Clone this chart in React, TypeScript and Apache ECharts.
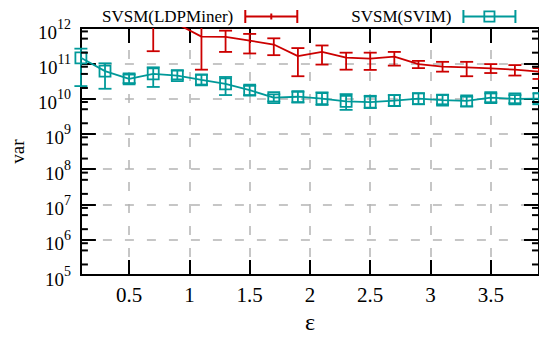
import React, { useEffect, useRef } from 'react';
import * as echarts from 'echarts';

const FONT = 'Liberation Serif';
const RED = '#cc0000';
const TEAL = '#009999';
const GRID_COLOR = '#b4b4b4';

const X_MIN = 0.1;
const X_MAX = 3.9;
const Y_MIN = 1e5;
const Y_MAX = 1e12;
const xTickValues = [0.5, 1, 1.5, 2, 2.5, 3, 3.5];
const minorMantissas = [2, 5, 8];
const minorDecades = [5, 6, 7, 8, 9, 10, 11];

// SVSM(LDPMiner)
const ldpEps = [0.7, 0.9, 1.1, 1.3, 1.5, 1.7, 1.9, 2.1, 2.3, 2.5, 2.7, 2.9, 3.1, 3.3, 3.5, 3.7, 3.9];
const ldpMean = [2.0e12, 1.3e12, 5.7e11, 5.6e11, 4.4e11, 3.4e11, 1.6e11, 2.1e11, 1.45e11, 1.35e11, 1.55e11, 9.5e10, 8.0e10, 7.7e10, 7.2e10, 6.6e10, 5.8e10];
const ldpLow = [2.2e11, 1.1e12, 6.6e10, 2.1e11, 1.9e11, 1.7e11, 4.3e10, 9.2e10, 6.6e10, 6.5e10, 8.6e10, 7.3e10, 5.8e10, 4.3e10, 5.3e10, 4.5e10, 3.6e10];
const ldpHigh = [6.0e12, 1.6e12, 1.5e12, 8.4e11, 6.8e11, 5.1e11, 2.7e11, 3.2e11, 2.0e11, 2.0e11, 2.1e11, 1.17e11, 1.1e11, 1.1e11, 9.5e10, 8.9e10, 7.3e10];

// SVSM(SVIM)
const svimEps = [0.1, 0.3, 0.5, 0.7, 0.9, 1.1, 1.3, 1.5, 1.7, 1.9, 2.1, 2.3, 2.5, 2.7, 2.9, 3.1, 3.3, 3.5, 3.7, 3.9];
const svimMean = [1.43e11, 6.0e10, 3.6e10, 5.0e10, 4.5e10, 3.4e10, 2.6e10, 1.74e10, 1.06e10, 1.13e10, 1.0e10, 8.3e9, 7.9e9, 8.8e9, 1.0e10, 9.1e9, 8.6e9, 1.07e10, 9.8e9, 1.0e10];
const svimLow = [2.26e10, 1.9e10, 2.75e10, 2.14e10, 3.5e10, 2.5e10, 1.26e10, 1.26e10, 8.3e9, 7.8e9, 6.6e9, 4.8e9, 5.4e9, 6.2e9, 6.9e9, 6.9e9, 6.0e9, 7.9e9, 7.4e9, 6.9e9];
const svimHigh = [2.6e11, 1.0e11, 4.8e10, 7.7e10, 6.2e10, 4.7e10, 4.1e10, 2.3e10, 1.32e10, 1.56e10, 1.5e10, 1.34e10, 1.2e10, 1.26e10, 1.4e10, 1.26e10, 1.13e10, 1.4e10, 1.26e10, 1.4e10];

const LDP_NAME = 'SVSM(LDPMiner)';
const SVIM_NAME = 'SVSM(SVIM)';

const redIcon =
  'path://M0 0H2V13H0Z M52 0H54V13H52Z M2 5.6H52V7.4H2Z M26 3.5H28V9.5H26Z';
const tealIcon =
  'path://M0 0H2V13H0Z M52 0H54V13H52Z M2 5.6H52V7.4H2Z M21 0.5H33V2.3H21Z M21 10.7H33V12.5H21Z M21 0.5H22.8V12.5H21Z M31.2 0.5H33V12.5H31.2Z';

function errorBarSeries(name: string, xs: number[], lo: number[], hi: number[], color: string, clip: boolean) {
  return {
    type: 'custom',
    name: name + ' err',
    xAxisIndex: 0,
    yAxisIndex: 0,
    clip,
    silent: true,
    z: 3,
    data: xs.map((x, i) => [x, lo[i], hi[i]]),
    encode: { x: 0, y: [1, 2] },
    renderItem: (params: any, api: any) => {
      const x = api.value(0);
      const pLo = api.coord([x, api.value(1)]);
      const pHi = api.coord([x, api.value(2)]);
      const w = 6.5;
      const style = { stroke: color, lineWidth: 1.8, fill: 'none' };
      return {
        type: 'group',
        children: [
          { type: 'line', shape: { x1: pLo[0], y1: pLo[1], x2: pHi[0], y2: pHi[1] }, style },
          { type: 'line', shape: { x1: pLo[0] - w, y1: pLo[1], x2: pLo[0] + w, y2: pLo[1] }, style },
          { type: 'line', shape: { x1: pHi[0] - w, y1: pHi[1], x2: pHi[0] + w, y2: pHi[1] }, style },
        ],
      };
    },
  };
}

export default function App() {
  const ref = useRef<HTMLDivElement>(null);
  useEffect(() => {
    const chart = echarts.init(ref.current!, null, { renderer: 'svg' });
    const minorValues: number[] = [];
    minorDecades.forEach((d) => minorMantissas.forEach((m) => minorValues.push(m * Math.pow(10, d))));

    const axisLine = { show: true, onZero: false, lineStyle: { color: '#000', width: 2 } };
    const majorTick = { show: true, inside: true, length: 15, lineStyle: { color: '#000', width: 2 } };

    const option: any = {
      animation: false,
      backgroundColor: '#fff',
      textStyle: { fontFamily: FONT },
      grid: { left: 73, right: -3, top: 28, bottom: 58, containLabel: false },
      legend: {
        left: 97,
        top: 3,
        align: 'right',
        itemWidth: 54,
        itemHeight: 13,
        itemGap: 53,
        selectedMode: false,
        textStyle: { fontFamily: FONT, fontSize: 17, color: '#000', padding: [0, 6, 0, 0] },
        data: [
          { name: LDP_NAME, icon: redIcon, itemStyle: { color: RED, borderWidth: 0 } },
          { name: SVIM_NAME, icon: tealIcon, itemStyle: { color: TEAL, borderWidth: 0 } },
        ],
      },
      xAxis: [
        {
          type: 'value',
          position: 'bottom',
          min: X_MIN,
          max: X_MAX,
          name: 'ε',
          nameLocation: 'middle',
          nameGap: 29,
          nameTextStyle: { fontFamily: FONT, fontSize: 24, color: '#000' },
          axisLine,
          axisTick: { ...majorTick, customValues: xTickValues },
          axisLabel: { customValues: xTickValues, fontFamily: FONT, fontSize: 21, color: '#000', margin: 9 },
          splitLine: { show: true, lineStyle: { color: GRID_COLOR, width: 1.5, type: [9, 13] } },
        },
        {
          type: 'value',
          position: 'top',
          min: X_MIN,
          max: X_MAX,
          axisLine,
          axisTick: { ...majorTick, customValues: xTickValues },
          axisLabel: { show: false },
          splitLine: { show: false },
        },
      ],
      yAxis: [
        {
          type: 'log',
          logBase: 10,
          position: 'left',
          min: Y_MIN,
          max: Y_MAX,
          name: 'var',
          nameLocation: 'middle',
          nameGap: 53,
          nameRotate: 90,
          nameTextStyle: { fontFamily: FONT, fontSize: 19, color: '#000' },
          axisLine,
          axisTick: majorTick,
          axisLabel: {
            margin: 10,
            formatter: (v: number) => `{b|10}{s|${Math.round(Math.log10(v))}}`,
            rich: {
              b: { fontFamily: FONT, fontSize: 19, color: '#000', padding: [8, 0, 0, 0] },
              s: { fontFamily: FONT, fontSize: 14, color: '#000', padding: [0, 0, 8, 0] },
            },
          },
          splitLine: { show: true, lineStyle: { color: GRID_COLOR, width: 1.5, type: [9, 13] } },
        },
        {
          type: 'log',
          logBase: 10,
          position: 'right',
          min: Y_MIN,
          max: Y_MAX,
          axisLine,
          axisTick: majorTick,
          axisLabel: { show: false },
          splitLine: { show: false },
        },
      ],
      series: [
        {
          type: 'custom',
          name: 'minor ticks',
          xAxisIndex: 0,
          yAxisIndex: 0,
          silent: true,
          clip: false,
          z: 5,
          data: minorValues.map((v) => [X_MIN, v]),
          encode: { x: 0, y: 1 },
          renderItem: (params: any, api: any) => {
            const p = api.coord([X_MIN, api.value(1)]);
            const cs = params.coordSys;
            const left = cs.x;
            const right = cs.x + cs.width;
            const style = { stroke: '#000', lineWidth: 2 };
            return {
              type: 'group',
              children: [
                { type: 'line', shape: { x1: left, y1: p[1], x2: left + 7, y2: p[1] }, style },
                { type: 'line', shape: { x1: right - 7, y1: p[1], x2: right, y2: p[1] }, style },
              ],
            };
          },
        },
        {
          type: 'line',
          name: LDP_NAME,
          xAxisIndex: 0,
          yAxisIndex: 0,
          data: ldpEps.map((x, i) => [x, ldpMean[i]]),
          symbol: 'none',
          clip: true,
          color: RED,
          lineStyle: { color: RED, width: 1.8 },
          z: 2,
        },
        errorBarSeries(LDP_NAME, ldpEps, ldpLow, ldpHigh, RED, true),
        {
          type: 'line',
          name: SVIM_NAME,
          xAxisIndex: 0,
          yAxisIndex: 0,
          data: svimEps.map((x, i) => [x, svimMean[i]]),
          symbol: 'rect',
          symbolSize: 11,
          showAllSymbol: true,
          clip: true,
          color: TEAL,
          lineStyle: { color: TEAL, width: 1.8 },
          itemStyle: { color: 'transparent', borderColor: TEAL, borderWidth: 1.8 },
          z: 2,
        },
        errorBarSeries(SVIM_NAME, svimEps, svimLow, svimHigh, TEAL, false),
      ],
    };
    chart.setOption(option);
    return () => chart.dispose();
  }, []);
  return <div ref={ref} style={{ position: 'absolute', left: 0, top: 0, width: 539, height: 339 }} />;
}
